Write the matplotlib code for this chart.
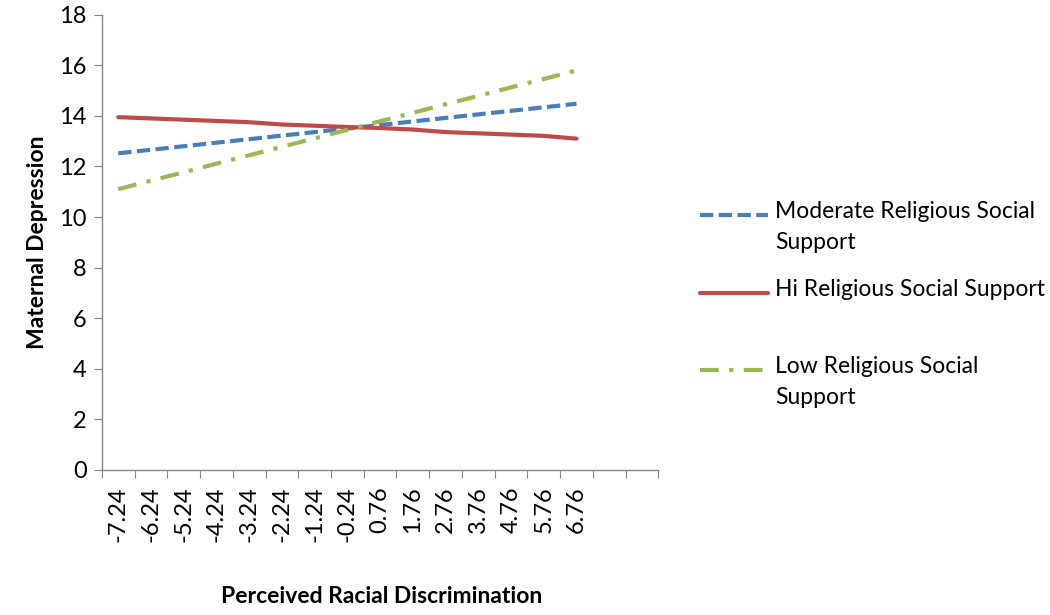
import matplotlib.pyplot as plt
from matplotlib.lines import Line2D
import numpy as np

plt.rcParams.update({
    'font.family': ['Lato', 'DejaVu Sans'],
    'font.size': 16.5,
})

# categories on the x axis (two empty slots at the end, as in the source sheet)
x_labels = ['-7.24', '-6.24', '-5.24', '-4.24', '-3.24', '-2.24', '-1.24', '-0.24',
            '0.76', '1.76', '2.76', '3.76', '4.76', '5.76', '6.76', '', '']

moderate = [12.52, 12.66, 12.80, 12.94, 13.08, 13.22, 13.36, 13.50,
            13.64, 13.78, 13.92, 14.06, 14.20, 14.34, 14.48]
hi = [13.95, 13.90, 13.85, 13.80, 13.75, 13.66, 13.61, 13.56,
      13.52, 13.46, 13.36, 13.31, 13.26, 13.21, 13.10]
low = [11.10, 11.44, 11.77, 12.11, 12.44, 12.78, 13.11, 13.45,
       13.79, 14.12, 14.46, 14.79, 15.13, 15.46, 15.80]

blue = '#4A7EBB'
red = '#BE4B48'
green = '#98B954'
axis_grey = '#868686'

fig = plt.figure(figsize=(10.5, 6.15), dpi=100)
ax = fig.add_axes([0.097, 0.236, 0.530, 0.740])

xs = np.arange(len(moderate))
lw = 3.0
ax.plot(xs, moderate, color=blue, lw=lw, dashes=(3.2, 1.3), solid_capstyle='butt')
ax.plot(xs, hi, color=red, lw=lw, solid_capstyle='round')
ax.plot(xs, low, color=green, lw=lw, dashes=(4.5, 2.5, 1, 2.5))

ax.set_xlim(-0.5, len(x_labels) - 0.5)
ax.set_ylim(0, 18)
ax.set_yticks(np.arange(0, 19, 2))

# ticks at category boundaries, labels at category centres
ax.set_xticks(np.arange(-0.5, len(x_labels), 1.0))
ax.set_xticklabels([])
ax.set_xticks(np.arange(len(x_labels)), minor=True)
ax.set_xticklabels(x_labels, minor=True, rotation=90)
ax.tick_params(axis='x', which='minor', length=0, pad=12, labelsize=17)
ax.tick_params(axis='x', which='major', length=6, color=axis_grey, direction='out')
ax.tick_params(axis='y', length=6, color=axis_grey, direction='out', labelsize=17, pad=5)

for s in ['top', 'right']:
    ax.spines[s].set_visible(False)
for s in ['left', 'bottom']:
    ax.spines[s].set_color(axis_grey)
    ax.spines[s].set_linewidth(1.0)

ax.set_ylabel('Maternal Depression', fontweight='bold', fontsize=16.5, labelpad=8)
fig.text(0.363, 0.03, 'Perceived Racial Discrimination', fontweight='bold',
         fontsize=16.5, ha='center', va='center')

# legend drawn by hand to keep Excel's layout
entries = [
    ('Moderate Religious Social\nSupport', blue, dict(dashes=(3.2, 1.3)), 215),
    ('Hi Religious Social Support', red, dict(solid_capstyle='round'), 293),
    ('Low Religious Social\nSupport', green, dict(dashes=(4.5, 2.5, 1, 2.5)), 370),
]
W, H = 1050, 615
for text, col, style, ypx in entries:
    yf = 1 - ypx / H
    fig.add_artist(Line2D([700 / W, 768 / W], [yf, yf], color=col, lw=lw,
                          transform=fig.transFigure, **style))
    fig.text(775 / W, yf + 14 / H, text, ha='left', va='top', fontsize=16.5,
             linespacing=1.6)

fig.savefig('out.png', dpi=100)
